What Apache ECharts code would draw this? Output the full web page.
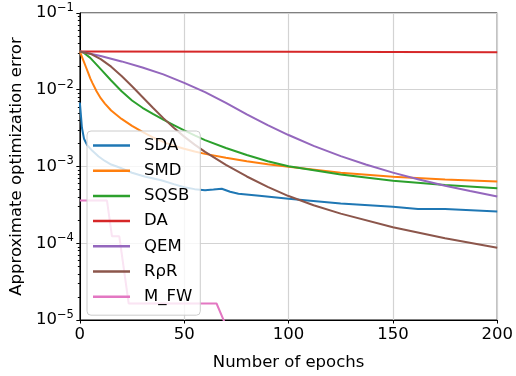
<!DOCTYPE html>
<html>
<head>
<meta charset="utf-8">
<script src="https://cdn.jsdelivr.net/npm/echarts@6/dist/echarts.min.js"></script>
<style>
  html, body { margin: 0; padding: 0; background: #fff; }
  #chart { width: 516px; height: 376px; }
</style>
</head>
<body>
<div id="chart"></div>
<script>
// [epoch, error] pairs
const sda = [[0, 0.0068], [0.5, 0.0047], [1, 0.0032], [2, 0.0023], [3.5, 0.0019], [6, 0.0016], [9, 0.00135],
  [12, 0.00118], [15, 0.00106], [19, 0.00097], [25, 0.00083], [31, 0.00074], [39, 0.000661], [45, 0.000589],
  [50, 0.000537], [55, 0.000507], [60, 0.00049], [64, 0.000501], [68, 0.000513], [72, 0.000468], [76, 0.000442],
  [86, 0.000417], [100, 0.00038], [125, 0.00033], [150, 0.0003], [162, 0.00028], [175, 0.00028], [200, 0.00026]];
const smd = [[0, 0.0316], [1, 0.0269], [2, 0.0229], [3, 0.0195], [4, 0.0166], [5, 0.0141], [6, 0.0123],
  [8, 0.00955], [10, 0.00776], [12, 0.00661], [15, 0.00537], [20, 0.00417], [25, 0.00339], [30, 0.00282],
  [35, 0.0024], [40, 0.00209], [45, 0.00186], [50, 0.0017], [55, 0.00157], [60, 0.00146], [70, 0.0013],
  [80, 0.00117], [90, 0.00107], [100, 0.00099], [125, 0.000832], [150, 0.000733], [175, 0.000676], [200, 0.000637]];
const sqsb = [[0, 0.0316], [2, 0.0302], [5, 0.026], [10, 0.0186], [15, 0.0132], [20, 0.00955], [25, 0.00724],
  [30, 0.00582], [35, 0.00484], [40, 0.00407], [45, 0.00347], [50, 0.00295], [55, 0.00254], [60, 0.00221],
  [70, 0.00174], [80, 0.00141], [90, 0.00117], [100, 0.00101], [125, 0.000785], [150, 0.000653],
  [175, 0.000572], [200, 0.000519]];
const da = [[0, 0.0316], [100, 0.0312], [200, 0.0307]];
const qem = [[0, 0.0316], [10, 0.0275], [20, 0.0234], [30, 0.0195], [40, 0.01585], [50, 0.0123], [60, 0.00933],
  [70, 0.00676], [80, 0.00479], [90, 0.00347], [100, 0.00257], [112, 0.00186], [125, 0.001365], [137, 0.00106],
  [150, 0.000832], [162, 0.000684], [175, 0.000562], [187, 0.000479], [200, 0.000407]];
const rpr = [[0, 0.0316], [5, 0.0295], [10, 0.0251], [15, 0.02], [20, 0.0151], [25, 0.0111], [30, 0.00804],
  [35, 0.00582], [40, 0.00427], [45, 0.0032], [50, 0.00245], [55, 0.00193], [60, 0.00155], [70, 0.00105],
  [80, 0.000741], [90, 0.000543], [100, 0.000412], [112, 0.000313], [125, 0.000243], [150, 0.000162],
  [175, 0.000116], [200, 0.0000871]];
const mfw = [[0, 0.00036], [13, 0.00036], [15.4, 0.000123], [18.9, 0.000123], [23.4, 0.0000164],
  [65.5, 0.0000164], [72, 0.0000063]];

const names = ['SDA', 'SMD', 'SQSB', 'DA', 'QEM', 'RρR', 'M_FW'];
const colors = ['#1f77b4', '#ff7f0e', '#2ca02c', '#d62728', '#9467bd', '#8c564b', '#e377c2'];
const lines = [sda, smd, sqsb, da, qem, rpr, mfw];

const xTicks = [0, 50, 100, 150, 200];
const minorTicks = [];
for (let d = -5; d < -1; d++) {
  for (let k = 2; k <= 9; k++) minorTicks.push(k * Math.pow(10, d));
}

const font = 'DejaVu Sans';
const chart = echarts.init(document.getElementById('chart'), null, { renderer: 'canvas' });

chart.setOption({
  animation: false,
  textStyle: { fontFamily: font },
  grid: { left: 79, right: 18, top: 13, bottom: 51, show: true, borderColor: '#000', borderWidth: 1 },
  legend: {
    orient: 'vertical', left: 87, top: 131,
    data: names,
    icon: 'rect',
    itemWidth: 37, itemHeight: 2.5, itemGap: 8.2,
    padding: [6, 8, 10, 6],
    backgroundColor: 'rgba(255,255,255,0.8)',
    borderColor: '#cccccc', borderWidth: 1, borderRadius: 4,
    textStyle: { fontFamily: font, fontSize: 16.5, color: '#000', padding: [0, 0, 0, 9] }
  },
  xAxis: {
    type: 'value', min: 0, max: 200, interval: 50,
    name: 'Number of epochs', nameLocation: 'middle', nameGap: 34,
    nameTextStyle: { fontFamily: font, fontSize: 16.5, color: '#000' },
    axisLine: { lineStyle: { color: '#000' } },
    axisTick: { show: true, length: 3.5, lineStyle: { color: '#000' }, customValues: xTicks },
    axisLabel: { color: '#000', fontSize: 16.5, margin: 6 },
    splitLine: { show: true, lineStyle: { color: '#d3d3d3', width: 1.2 } }
  },
  yAxis: [{
    type: 'log', logBase: 10, min: 1e-5, max: 1e-1, splitNumber: 4,
    name: 'Approximate optimization error', nameLocation: 'middle', nameGap: 52,
    nameTextStyle: { fontFamily: font, fontSize: 16.5, color: '#000' },
    axisLine: { show: true, lineStyle: { color: '#000' } },
    axisTick: { show: true, length: 3.5, lineStyle: { color: '#000' } },
    axisLabel: {
      color: '#000', margin: 6,
      formatter: function (v) {
        const e = Math.round(Math.log10(v));
        return '{b|10}{s|−' + (-e) + '}';
      },
      rich: {
        b: { fontFamily: font, fontSize: 16.5, color: '#000' },
        s: { fontFamily: font, fontSize: 11.5, color: '#000', padding: [0, 0, 10, 0] }
      }
    },
    splitLine: { show: true, lineStyle: { color: '#d3d3d3', width: 1.2 } }
  }, {
    // minor ticks only
    type: 'log', logBase: 10, min: 1e-5, max: 1e-1, position: 'left',
    axisLine: { show: false },
    axisLabel: { show: false },
    splitLine: { show: false },
    axisTick: { show: true, length: 2, lineStyle: { color: '#000' }, customValues: minorTicks }
  }],
  series: lines.map(function (d, i) {
    return {
      name: names[i], type: 'line', data: d, yAxisIndex: 0,
      symbol: 'none', clip: true, smooth: false,
      lineStyle: { color: colors[i], width: 2 },
      itemStyle: { color: colors[i] }
    };
  })
});
</script>
</body>
</html>
